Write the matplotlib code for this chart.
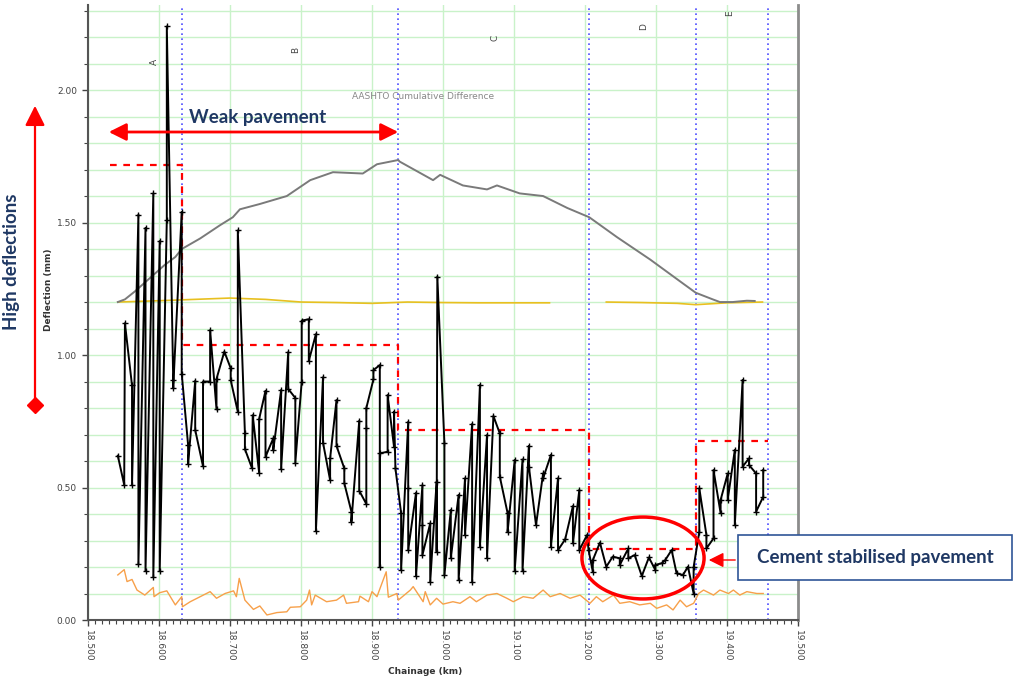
import matplotlib
matplotlib.use("Agg")
import matplotlib.pyplot as plt
import numpy as np
from matplotlib.patches import Ellipse, Rectangle
from matplotlib.ticker import MultipleLocator, FormatStrFormatter

# ---------------- data ----------------
defl_km = [18.542, 18.551, 18.552, 18.562, 18.562, 18.571, 18.571, 18.581, 18.581, 18.592, 18.592,
           18.601, 18.601, 18.611, 18.611, 18.620, 18.620, 18.632, 18.632,
           18.641, 18.641, 18.651, 18.651, 18.662, 18.662, 18.672, 18.672, 18.681, 18.681, 18.692,
           18.701, 18.701, 18.711, 18.711, 18.721, 18.721, 18.731, 18.732, 18.741, 18.741, 18.750,
           18.750, 18.761, 18.761, 18.772, 18.772, 18.782, 18.782, 18.792, 18.792, 18.801, 18.801,
           18.811, 18.811, 18.821, 18.821, 18.831, 18.831, 18.841, 18.841, 18.850, 18.850, 18.861,
           18.861, 18.871, 18.871, 18.882, 18.882, 18.892, 18.892, 18.892, 18.902, 18.902, 18.911,
           18.911, 18.911, 18.922, 18.922, 18.931, 18.931, 18.933,
           18.941, 18.941, 18.951, 18.951, 18.951, 18.962, 18.962, 18.971, 18.971, 18.971, 18.982,
           18.982, 18.991, 18.991, 18.992, 19.002, 19.002, 19.011, 19.011, 19.022, 19.022, 19.031,
           19.031, 19.041, 19.041, 19.052, 19.052, 19.062, 19.062, 19.071, 19.080, 19.080, 19.091,
           19.091, 19.101, 19.101, 19.112, 19.112, 19.121, 19.121, 19.131, 19.141, 19.141, 19.152,
           19.152, 19.162, 19.162, 19.172, 19.183, 19.183, 19.192, 19.192, 19.203,
           19.205, 19.211, 19.211, 19.221, 19.230, 19.239, 19.249, 19.249, 19.261, 19.261, 19.270,
           19.280, 19.290, 19.299, 19.299, 19.308, 19.313, 19.322, 19.329, 19.338, 19.345, 19.353,
           19.353,
           19.361, 19.361, 19.371, 19.371, 19.381, 19.381, 19.391, 19.391, 19.401, 19.401, 19.411,
           19.411, 19.422, 19.422, 19.431, 19.431, 19.441, 19.441, 19.451, 19.451]
defl_mm = [0.62, 0.51, 1.12, 0.885, 0.51, 1.53, 0.21, 1.48, 0.185, 1.61, 0.163,
           1.43, 0.185, 1.51, 2.24, 0.907, 0.875, 1.54, 0.93,
           0.66, 0.59, 0.903, 0.717, 0.58, 0.90, 0.90, 1.094, 0.795, 0.91, 1.013,
           0.95, 0.905, 0.786, 1.47, 0.705, 0.645, 0.573, 0.773, 0.556, 0.758, 0.865,
           0.616, 0.686, 0.643, 0.868, 0.57, 1.011, 0.872, 0.838, 0.594, 0.90, 1.13,
           1.135, 0.978, 1.079, 0.337, 0.916, 0.669, 0.528, 0.61, 0.83, 0.657, 0.572,
           0.516, 0.409, 0.371, 0.752, 0.488, 0.438, 0.723, 0.80, 0.908, 0.943, 0.962,
           0.201, 0.629, 0.635, 0.849, 0.654, 0.786, 0.572,
           0.403, 0.189, 0.748, 0.497, 0.264, 0.48, 0.166, 0.509, 0.358, 0.245, 0.365,
           0.145, 0.522, 0.258, 1.296, 0.667, 0.17, 0.415, 0.233, 0.472, 0.151, 0.535,
           0.321, 0.74, 0.145, 0.887, 0.277, 0.698, 0.233, 0.77, 0.704, 0.541, 0.403,
           0.333, 0.604, 0.186, 0.606, 0.186, 0.657, 0.579, 0.358, 0.553, 0.535, 0.623,
           0.277, 0.535, 0.264, 0.304, 0.43, 0.289, 0.491, 0.264, 0.321,
           0.264, 0.182, 0.226, 0.292, 0.201, 0.239, 0.233, 0.208, 0.27, 0.233, 0.245,
           0.166, 0.236, 0.189, 0.208, 0.214, 0.226, 0.264, 0.176, 0.17, 0.201, 0.10,
           0.20,
           0.333, 0.497, 0.321, 0.27, 0.308, 0.566, 0.403, 0.453, 0.553, 0.453, 0.642,
           0.358, 0.906, 0.579, 0.61, 0.585, 0.553, 0.409, 0.465, 0.566]

cumdiff_km = [18.542, 18.552, 18.566, 18.587, 18.608, 18.623, 18.632, 18.658, 18.686, 18.704,
              18.714, 18.742, 18.780, 18.813, 18.845, 18.887, 18.907, 18.937, 18.939, 18.986,
              18.996, 19.028, 19.062, 19.076, 19.108, 19.141, 19.175, 19.206, 19.245, 19.292,
              19.338, 19.356, 19.380, 19.390, 19.408, 19.428, 19.439]
cumdiff_val = [1.20, 1.21, 1.24, 1.29, 1.34, 1.37, 1.40, 1.44, 1.49, 1.52,
               1.55, 1.57, 1.60, 1.66, 1.69, 1.685, 1.72, 1.736, 1.73, 1.66,
               1.68, 1.64, 1.625, 1.64, 1.61, 1.60, 1.555, 1.52, 1.445, 1.36,
               1.27, 1.235, 1.21, 1.20, 1.20, 1.205, 1.204]

yellow_km = [18.542, 18.60, 18.65, 18.70, 18.75, 18.80, 18.85, 18.90, 18.95, 19.00, 19.05, 19.10,
             19.15, 19.16, 19.23, 19.28, 19.33, 19.356, 19.40, 19.45]
yellow_val = [1.20, 1.205, 1.21, 1.215, 1.21, 1.20, 1.198, 1.195, 1.20, 1.198, 1.197, 1.197,
              1.197, np.nan, 1.20, 1.198, 1.195, 1.19, 1.197, 1.20]

orange_km = [18.542, 18.551, 18.555, 18.562, 18.569, 18.580, 18.592, 18.593, 18.601, 18.611,
             18.623, 18.632, 18.633, 18.644, 18.658, 18.672, 18.681, 18.693, 18.705, 18.709,
             18.713, 18.721, 18.733, 18.742, 18.752, 18.766, 18.780, 18.785, 18.799, 18.808,
             18.812, 18.815, 18.820, 18.836, 18.850, 18.860, 18.864, 18.881, 18.883, 18.895,
             18.900, 18.907, 18.920, 18.923, 18.935, 18.937, 18.954, 18.958, 18.972, 18.975,
             18.982, 18.991, 19.000, 19.014, 19.024, 19.038, 19.047, 19.062, 19.076, 19.090,
             19.099, 19.113, 19.127, 19.141, 19.151, 19.165, 19.179, 19.193, 19.207, 19.216,
             19.225, 19.240, 19.249, 19.263, 19.277, 19.292, 19.301, 19.315, 19.324, 19.334,
             19.343, 19.353, 19.360, 19.367, 19.381, 19.390, 19.402, 19.409, 19.418, 19.428,
             19.442, 19.451]
orange_val = [0.17, 0.19, 0.145, 0.153, 0.113, 0.094, 0.123, 0.088, 0.103, 0.11,
              0.057, 0.088, 0.05, 0.069, 0.088, 0.107, 0.082, 0.10, 0.11, 0.088,
              0.157, 0.075, 0.04, 0.053, 0.019, 0.028, 0.031, 0.048, 0.05, 0.075,
              0.113, 0.057, 0.094, 0.069, 0.075, 0.094, 0.063, 0.069, 0.09, 0.069,
              0.107, 0.088, 0.182, 0.086, 0.10, 0.075, 0.113, 0.126, 0.069, 0.107,
              0.057, 0.082, 0.06, 0.069, 0.063, 0.088, 0.069, 0.094, 0.10, 0.082,
              0.069, 0.088, 0.082, 0.113, 0.088, 0.10, 0.082, 0.094, 0.063, 0.088,
              0.069, 0.094, 0.063, 0.069, 0.057, 0.063, 0.044, 0.057, 0.038, 0.075,
              0.05, 0.063, 0.10, 0.113, 0.094, 0.113, 0.10, 0.113, 0.094, 0.107,
              0.10, 0.10]

section_bounds = [18.632, 18.937, 19.206, 19.356, 19.458]
section_names = ["A", "B", "C", "D", "E"]
section_label_km = [18.594, 18.793, 19.073, 19.282, 19.403]
section_label_y = [2.106, 2.15, 2.196, 2.24, 2.29]
mean_start_km = 18.531
section_means = [1.717, 1.038, 0.717, 0.268, 0.675]

# ---------------- figure ----------------
W, H = 1014, 682
fig = plt.figure(figsize=(W / 100, H / 100), dpi=100)
fig.patch.set_facecolor("white")
ax = fig.add_axes([88 / W, 62 / H, 710 / W, 615 / H])

ax.set_xlim(18.5, 19.5)
ax.set_ylim(0, 2.321)


def fx(px):
    return px / W


def fy(py):
    return 1 - py / H


# grid
ax.xaxis.set_major_locator(MultipleLocator(0.1))
ax.xaxis.set_minor_locator(MultipleLocator(0.01))
ax.yaxis.set_major_locator(MultipleLocator(0.5))
ax.yaxis.set_minor_locator(MultipleLocator(0.1))
ax.xaxis.set_major_formatter(FormatStrFormatter("%.3f"))
ax.yaxis.set_major_formatter(FormatStrFormatter("%.2f"))
ax.grid(True, which="major", axis="x", color="#c9f2c9", lw=1.0)
ax.grid(True, which="minor", axis="y", color="#c9f2c9", lw=1.0)
ax.grid(True, which="major", axis="y", color="#c9f2c9", lw=1.0)
ax.set_axisbelow(True)

ax.spines["top"].set_visible(False)
ax.spines["right"].set_color("#8c8c8c")
ax.spines["right"].set_linewidth(2.0)
ax.spines["left"].set_color("#555555")
ax.spines["left"].set_linewidth(1.5)
ax.spines["bottom"].set_color("#555555")
ax.spines["bottom"].set_linewidth(1.5)

ax.tick_params(axis="x", which="major", length=4, width=1, color="#444444",
               labelsize=6.5, labelcolor="#444444", labelrotation=270, pad=3)
ax.tick_params(axis="x", which="minor", length=3, width=0.8, color="#444444")
ax.tick_params(axis="y", which="major", length=4, width=1, color="#444444",
               labelsize=6.5, labelcolor="#444444", pad=4)
ax.tick_params(axis="y", which="minor", length=3, width=0.8, color="#444444")
for lab in ax.get_xticklabels():
    lab.set_va("top")
    lab.set_ha("center")

# axis titles placed as in reference
fig.text(fx(425), fy(672), "Chainage (km)", fontsize=6.5, fontweight="bold", color="#333333",
         ha="center", va="center")
fig.text(fx(48), fy(290), "Deflection (mm)", fontsize=6.5, fontweight="bold", color="#333333",
         rotation=90, ha="center", va="center")

# section boundaries
for b in section_bounds:
    ax.axvline(b, color="#4d4dff", lw=1.2, ls=(0, (1, 2)), zorder=2)

# section mean step line (red dashed)
step_x = [mean_start_km] + section_bounds
step_y = section_means + [section_means[-1]]
ax.step(step_x, step_y, where="post", color="red", lw=1.6, ls=(0, (3, 3)), zorder=3)

# lines
ax.plot(orange_km, orange_val, color="#f7a04a", lw=1.0, zorder=3)
ax.plot(yellow_km, yellow_val, color="#e8c020", lw=1.2, zorder=3)
ax.plot(cumdiff_km, cumdiff_val, color="#7a7a7a", lw=1.4, zorder=3)
ax.plot(defl_km, defl_mm, color="black", lw=1.4, marker="+", ms=5, mew=1.0, zorder=4)

# section labels
for name, xk, yk in zip(section_names, section_label_km, section_label_y):
    ax.text(xk, yk, name, rotation=90, fontsize=6.5, color="#444444", ha="center", va="center")

ax.text(18.972, 1.977, "AASHTO Cumulative Difference", fontsize=6.5, color="#888888",
        ha="center", va="center")

# ellipse around cement stabilised section
ax.add_patch(Ellipse((19.2817, 0.234), 0.172, 0.309, fill=False, ec="red", lw=2.5, zorder=5))

# ---------------- annotations in figure coords ----------------
label_font = ["Lato", "DejaVu Sans"]
navy = "#1f3864"

fig.text(fx(258), fy(117), "Weak pavement", fontsize=13.5, fontweight="bold", color=navy,
         ha="center", va="center", family=label_font)
fig.add_artist(matplotlib.patches.FancyArrowPatch(
    (fx(106), fy(132)), (fx(401), fy(132)), transform=fig.transFigure,
    arrowstyle="<|-|>,head_length=7,head_width=3.5", color="red", lw=2.0, mutation_scale=1.5))

fig.text(fx(12), fy(262), "High deflections", fontsize=13.5, fontweight="bold", color=navy,
         rotation=90, ha="center", va="center", family=label_font)
fig.add_artist(matplotlib.patches.FancyArrowPatch(
    (fx(35), fy(405)), (fx(35), fy(103)), transform=fig.transFigure,
    arrowstyle="-|>,head_length=8,head_width=4", color="red", lw=1.6, mutation_scale=1.5))
fig.add_artist(matplotlib.lines.Line2D([fx(35)], [fy(405)], transform=fig.transFigure,
                                       marker="D", ms=8, color="red", mec="red"))

# callout box
fig.add_artist(Rectangle((fx(738), fy(580)), fx(1012) - fx(738), fy(535) - fy(580),
                         transform=fig.transFigure, fc="white", ec="#2f5597", lw=1.2))
fig.text(fx(875), fy(557), "Cement stabilised pavement", fontsize=13.5, fontweight="bold",
         color=navy, ha="center", va="center", family=label_font)
fig.add_artist(matplotlib.patches.FancyArrowPatch(
    (fx(738), fy(560)), (fx(706), fy(560)), transform=fig.transFigure,
    arrowstyle="-|>,head_length=6,head_width=3", color="red", lw=1.0, mutation_scale=1.5))

fig.savefig("out.png", dpi=100)
